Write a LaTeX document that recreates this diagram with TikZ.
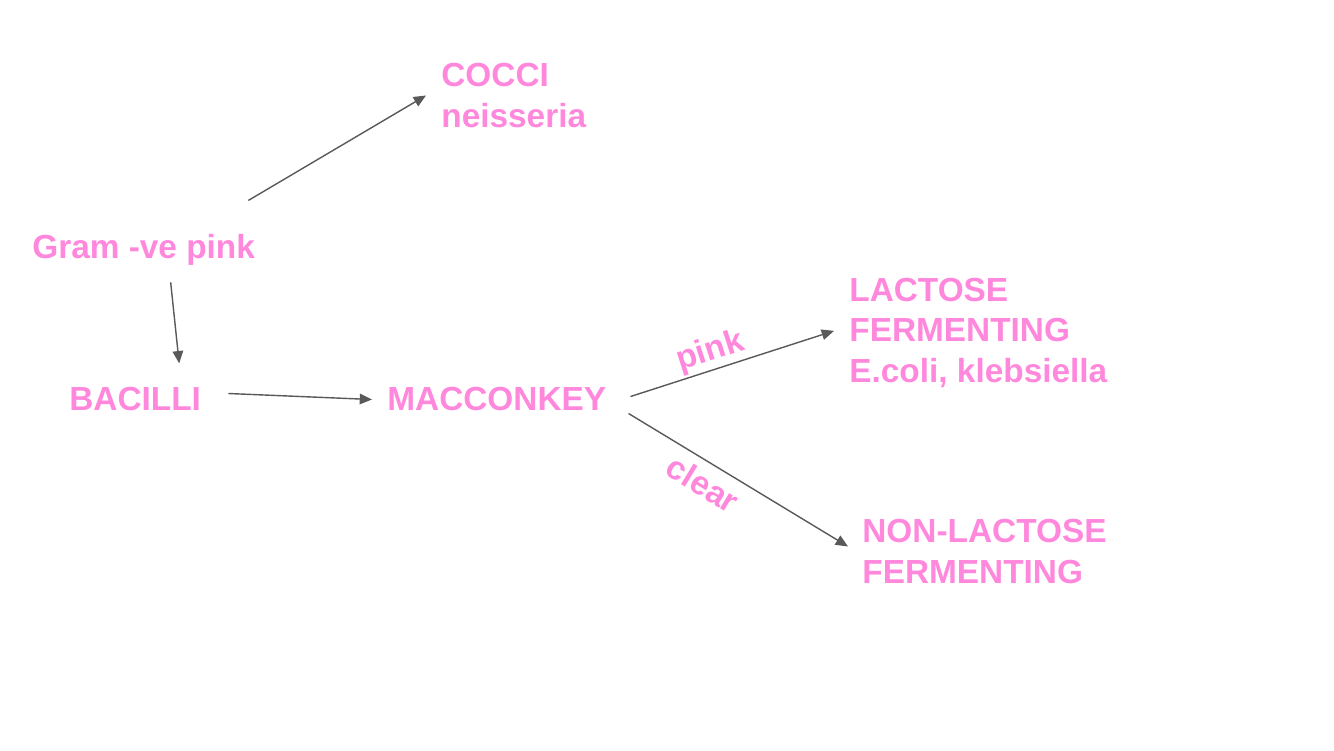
\documentclass[tikz,border=0pt]{standalone}
\usepackage{fontspec}
\setmainfont{Liberation Sans}
\usepackage{tikz}
\usetikzlibrary{arrows.meta}
\definecolor{labelpink}{HTML}{FF88DD}
\definecolor{arrowgray}{HTML}{595959}
\tikzset{node distance=2.0cm, auto}
\tikzset{
  txt/.style={text=labelpink, font=\fontsize{19}{22.8}\selectfont\bfseries, inner sep=0pt, align=left, anchor=base west},
  lbl/.style={text=labelpink, font=\fontsize{19}{22.8}\selectfont\bfseries, inner sep=2pt},
  arr/.style={draw=arrowgray, line width=0.8pt, -{Triangle[length=7pt,width=6pt]}}
}
\begin{document}
\begin{tikzpicture}[
  x=0.02cm, y=-0.02cm
]
\useasboundingbox (0,0) rectangle (1334,750);
% base anchor of a multi-line node is its last line
\node[txt] (gram) at (32,258) {Gram -ve pink};
\node[txt] (cocci) at (441,127) {COCCI\\neisseria};
\node[txt] (bacilli) at (69,410) {BACILLI};
\node[txt] (mac) at (387,410) {MACCONKEY};
\node[txt] (lactose) at (849,382) {LACTOSE\\FERMENTING\\E.coli, klebsiella};
\node[txt] (nonlac) at (862,583) {NON-LACTOSE\\FERMENTING};

\draw[arr] ([shift={(-7,-33)}]gram.north east) -- ([shift={(-15,0)}]cocci.west);
\draw[arr] ([shift={(27,17)}]gram.south) -- ([shift={(44,-23)}]bacilli.north);
\draw[arr] ([shift={(27,-5)}]bacilli.east) -- ([shift={(-15,1)}]mac.west);
\draw[arr] ([shift={(24,-2)}]mac.east) -- node[lbl, sloped, above, pos=0.42, inner sep=1pt] {pink} ([shift={(-15,-2)}]lactose.west);
\draw[arr] ([shift={(22,15)}]mac.east) -- node[lbl, sloped, below, pos=0.39, inner sep=5pt] {clear} ([shift={(-14,-5)}]nonlac.west);
\end{tikzpicture}
\end{document}
